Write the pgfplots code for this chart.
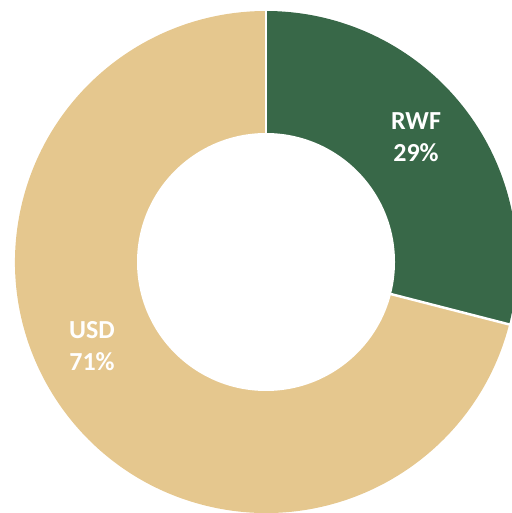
\documentclass[border=0pt]{standalone}
\usepackage{pgfplots}
\pgfplotsset{compat=1.18}
\usepackage{pgfplotstable}
\usepackage{fontspec}
\setmainfont{Carlito}
\definecolor{rwf}{RGB}{56,104,72}
\definecolor{usd}{RGB}{229,199,142}
\pgfplotstableread{
label value
RWF 29
USD 71
}\shares
\begin{document}
\begin{tikzpicture}
\useasboundingbox (0,0) rectangle (511pt,513pt);
\begin{axis}[at={(0pt,0pt)}, anchor=south west, scale only axis,
  width=511pt, height=513pt, xmin=0, xmax=511, ymin=0, ymax=513,
  hide axis, clip=false]
\pgfplotstablegetelem{0}{value}\of\shares
\pgfmathsetmacro\a{90-3.6*\pgfplotsretval}
\fill[rwf] (266,251) -- ([shift={(90:251pt)}]266,251) arc[start angle=90,end angle=\a,radius=251pt] -- cycle;
\fill[usd] (266,251) -- ([shift={(\a:251pt)}]266,251) arc[start angle=\a,end angle=-270,radius=251pt] -- cycle;
\draw[white, line width=2.5pt] (266,251) -- ([shift={(90:253pt)}]266,251);
\draw[white, line width=2.5pt] (266,251) -- ([shift={(\a:253pt)}]266,251);
\fill[white] (266,251) circle[radius=129pt];
\node[text=white, font=\fontsize{26}{32}\selectfont\bfseries, align=center] at (416,375.5) {RWF\\29\%};
\node[text=white, font=\fontsize{26}{32}\selectfont\bfseries, align=center] at (92,167) {USD\\71\%};
\end{axis}
\end{tikzpicture}
\end{document}
